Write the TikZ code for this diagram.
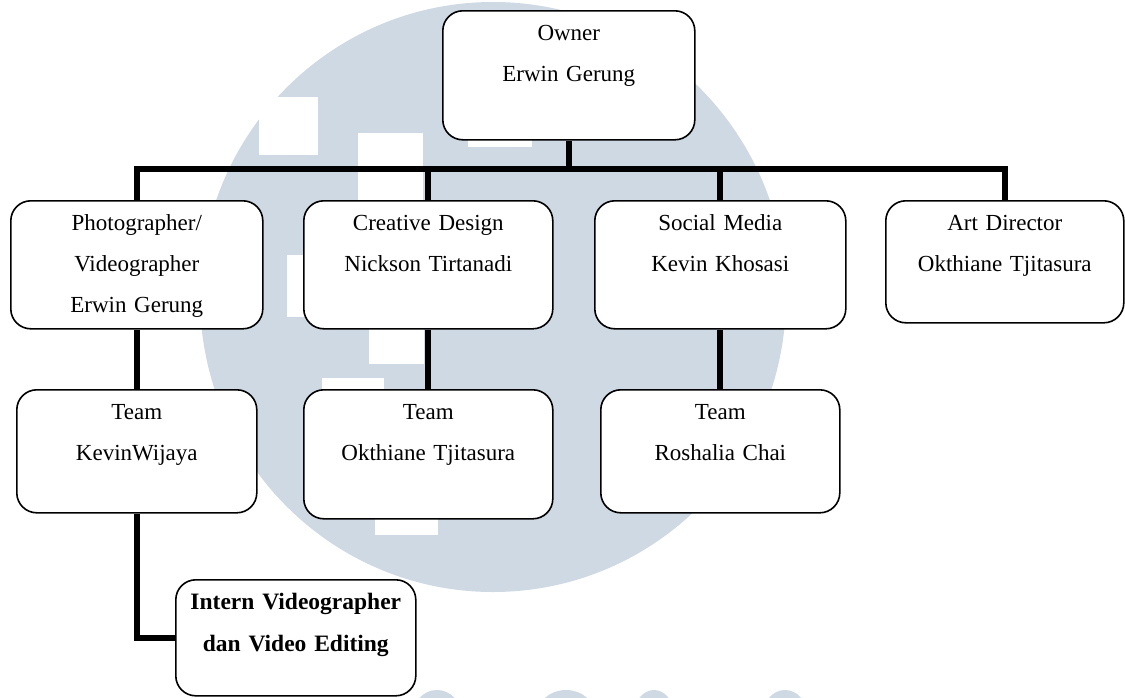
\documentclass[tikz,border=0pt]{standalone}
\usepackage{fontspec}
\setmainfont{Liberation Serif}
\definecolor{logoblue}{RGB}{206,217,227}
\begin{document}
\begin{tikzpicture}[x=1pt,y=-1pt,
  box/.style={draw,line width=1.6pt,rounded corners=20pt,fill=white,inner sep=0pt,anchor=north west,align=center,text height=30pt,font=\fontsize{23}{41}\selectfont},
  link/.style={line width=6pt}]
\useasboundingbox (0,0) rectangle (1125,697);
% watermark
\fill[logoblue] (493,297) ellipse [x radius=293pt, y radius=295pt];
\fill[white] (259,97) rectangle (318,155);
\fill[white] (358,133) rectangle (423,200);
\fill[white] (468,135) rectangle (532,147);
\fill[white] (287,255) rectangle (305,317);
\fill[white] (369,329) rectangle (424,364);
\fill[white] (322,378) rectangle (384,389);
\fill[white] (375,515) rectangle (438,535);
\fill[logoblue] (437,715) ellipse [x radius=24pt, y radius=25pt];
\fill[logoblue] (566,715) ellipse [x radius=29pt, y radius=25pt];
\fill[logoblue] (654,715) ellipse [x radius=20pt, y radius=25pt];
\fill[logoblue] (785,715) ellipse [x radius=22pt, y radius=25pt];

% posts
\node[box,text width=252pt,text depth=99pt] (owner) at (442,10) {Owner\\Erwin Gerung};
\node[box,text width=252pt,text depth=98pt] (photo) at (10,200) {Photographer/\\Videographer\\Erwin Gerung};
\node[box,text width=249pt,text depth=98pt] (creative) at (303,200) {Creative Design\\Nickson Tirtanadi};
\node[box,text width=251pt,text depth=98pt] (social) at (594,200) {Social Media\\Kevin Khosasi};
\node[box,text width=238pt,text depth=92pt] (art) at (885,200) {Art Director\\Okthiane Tjitasura};
\node[box,text width=240pt,text depth=93pt] (team1) at (16,389) {Team\\KevinWijaya};
\node[box,text width=249pt,text depth=99pt] (team2) at (303,389) {Team\\Okthiane Tjitasura};
\node[box,text width=239pt,text depth=93pt] (team3) at (600,389) {Team\\Roshalia Chai};
\node[box,text width=240pt,text depth=86pt,font=\fontsize{23.5}{42}\selectfont\bfseries] (intern) at (175,579) {Intern Videographer\\dan Video Editing};

% lines
\coordinate (bar) at (568,169);
\draw[link] (owner.south) -- (owner.south |- bar);
\draw[link] (photo.north) |- (bar) -| (art.north);
\draw[link] (creative.north) -- (creative.north |- bar);
\draw[link] (social.north) -- (social.north |- bar);
\draw[link] (photo.south) -- (team1.north);
\draw[link] (creative.south) -- (team2.north);
\draw[link] (social.south) -- (team3.north);
\draw[link] (team1.south) |- (intern.west);
\end{tikzpicture}
\end{document}
